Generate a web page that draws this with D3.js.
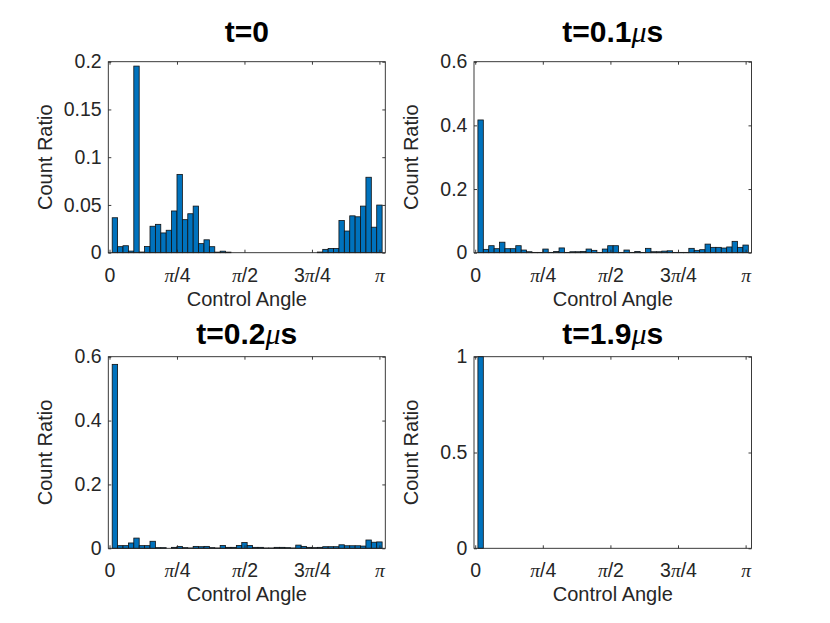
<!DOCTYPE html>
<html><head><meta charset="utf-8">
<script src="https://cdn.jsdelivr.net/npm/d3@7/dist/d3.min.js"></script>
<style>body{margin:0;background:#fff}svg{display:block}</style>
</head><body>
<svg id="chart" width="830" height="623"></svg>
<script>
// ---------- data ----------
const binCount = 50;
const binWidth = Math.PI / binCount;
const binCenters = d3.range(1, binCount + 1).map(i => i * binWidth); // bar centres (rad)

const angleTicks = [0, Math.PI / 4, Math.PI / 2, 3 * Math.PI / 4, Math.PI];
const angleTickLabels = [
  [{t: "0"}],
  [{t: "π", it: true}, {t: "/4"}],
  [{t: "π", it: true}, {t: "/2"}],
  [{t: "3"}, {t: "π", it: true}, {t: "/4"}],
  [{t: "π", it: true}]
];

const ratioT0 = [
  0.0366, 0.0063, 0.0073, 0.0017, 0.1954, 0.0007, 0.0064, 0.0277, 0.0297, 0.0207,
  0.0235, 0.0437, 0.0820, 0.0346, 0.0408, 0.0488, 0.0095, 0.0135, 0.0063, 0.0006,
  0.0016, 0.0006, 0, 0, 0, 0, 0, 0, 0, 0,
  0, 0, 0, 0, 0, 0, 0, 0, 0.0007, 0.0035,
  0.0045, 0.0045, 0.0337, 0.0227, 0.0386, 0.0376, 0.0488, 0.0790, 0.0267, 0.0499
];
const ratioT01 = [
  0.417, 0.0105, 0.0220, 0.0126, 0.0330, 0.0126, 0.0126, 0.0220, 0.0084, 0.0030,
  0.0010, 0.0010, 0.0115, 0.0010, 0.0040, 0.0150, 0.0010, 0.0030, 0.0030, 0.0040,
  0.0115, 0.0074, 0.0010, 0.0115, 0.0220, 0.0220, 0.0010, 0.0084, 0.0010, 0.0040,
  0.0010, 0.0137, 0.0030, 0.0030, 0.0050, 0.0060, 0.0010, 0.0010, 0.0010, 0.0137,
  0.0074, 0.0095, 0.0270, 0.0168, 0.0168, 0.0147, 0.0180, 0.0357, 0.0168, 0.0240
];
const ratioT02 = [
  0.576, 0.0083, 0.0083, 0.0167, 0.0320, 0.0083, 0.0083, 0.0220, 0.0020, 0.0020,
  0, 0.0030, 0.0060, 0.0020, 0.0010, 0.0060, 0.0050, 0.0060, 0.0020, 0.0010,
  0.0090, 0.0030, 0.0030, 0.0090, 0.0180, 0.0090, 0.0030, 0.0030, 0.0010, 0.0010,
  0.0030, 0.0030, 0.0020, 0.0010, 0.0100, 0.0060, 0.0030, 0.0020, 0.0030, 0.0050,
  0.0050, 0.0050, 0.0110, 0.0080, 0.0080, 0.0080, 0.0070, 0.0260, 0.0190, 0.0200
];
const ratioT19 = [
  1.0, 0, 0, 0, 0, 0, 0, 0, 0, 0,
  0, 0, 0, 0, 0, 0, 0, 0, 0, 0,
  0, 0, 0, 0, 0, 0, 0, 0, 0, 0,
  0, 0, 0, 0, 0, 0, 0, 0, 0, 0,
  0, 0, 0, 0, 0, 0, 0, 0, 0, 0
];

const titles = [
  [{t: "t=0", b: true}],
  [{t: "t=0.1", b: true}, {t: "μ", it: true}, {t: "s", b: true}],
  [{t: "t=0.2", b: true}, {t: "μ", it: true}, {t: "s", b: true}],
  [{t: "t=1.9", b: true}, {t: "μ", it: true}, {t: "s", b: true}]
];
const yMax = [0.2, 0.6, 0.6, 1];
const yTicks = [[0, 0.05, 0.1, 0.15, 0.2], [0, 0.2, 0.4, 0.6], [0, 0.2, 0.4, 0.6], [0, 0.5, 1]];
const yTickLabels = [["0", "0.05", "0.1", "0.15", "0.2"], ["0", "0.2", "0.4", "0.6"], ["0", "0.2", "0.4", "0.6"], ["0", "0.5", "1"]];
const seriesList = [ratioT0, ratioT01, ratioT02, ratioT19];
const xLabel = "Control Angle";
const yLabel = "Count Ratio";
const xDomain = [-0.014, 3.21];

// ---------- layout ----------
const colX = [[108.3, 385.3], [474, 751.5]];
const rowY = [[61.7, 252.7], [356.7, 548.3]];
const titleGap = [19.7, 12.7];
const axisColor = "#262626";
const sans = "'Liberation Sans', Arial, Helvetica, sans-serif";
const serif = "'Liberation Serif', 'Times New Roman', serif";
const tickFont = 19.5;
const labelFont = 20;
const titleFont = 30;

const svg = d3.select("#chart");
svg.append("rect").attr("width", 830).attr("height", 623).attr("fill", "#fff");

function addParts(textSel, parts, baseFamily) {
  parts.forEach(p => {
    const ts = textSel.append("tspan").text(p.t);
    if (p.it) ts.attr("font-family", serif).attr("font-style", "italic").attr("font-weight", "normal");
    else ts.attr("font-family", baseFamily);
    if (p.b) ts.attr("font-weight", "bold");
  });
}

seriesList.forEach((values, i) => {
  const col = i % 2, row = Math.floor(i / 2);
  const [x0, x1] = colX[col];
  const [y0, y1] = rowY[row];
  const x = d3.scaleLinear().domain(xDomain).range([x0, x1]);
  const y = d3.scaleLinear().domain([0, yMax[i]]).range([y1, y0]);
  const g = svg.append("g");

  // bars
  const data = values.map((v, k) => ({c: binCenters[k], v}));
  g.append("g").selectAll("rect").data(data).join("rect")
    .attr("x", d => x(d.c - binWidth / 2))
    .attr("width", d => x(d.c + binWidth / 2) - x(d.c - binWidth / 2))
    .attr("y", d => y(d.v))
    .attr("height", d => y(0) - y(d.v))
    .attr("fill", "#0072BD")
    .attr("stroke", "#111")
    .attr("stroke-width", 0.8);

  // axes (ticks inward, box)
  const tickLen = 3;
  const bottom = g.append("g").attr("transform", `translate(0,${y1})`)
    .call(d3.axisBottom(x).tickValues(angleTicks).tickSize(-tickLen).tickPadding(15).tickFormat(() => ""));
  const top = g.append("g").attr("transform", `translate(0,${y0})`)
    .call(d3.axisTop(x).tickValues(angleTicks).tickSize(-tickLen).tickFormat(() => ""));
  const left = g.append("g").attr("transform", `translate(${x0},0)`)
    .call(d3.axisLeft(y).tickValues(yTicks[i]).tickSize(-tickLen).tickPadding(6.6)
      .tickFormat((d, j) => yTickLabels[i][j]));
  const right = g.append("g").attr("transform", `translate(${x1},0)`)
    .call(d3.axisRight(y).tickValues(yTicks[i]).tickSize(-tickLen).tickFormat(() => ""));
  [bottom, top, left, right].forEach(a => {
    a.select(".domain").remove();
    a.selectAll("line").attr("stroke", axisColor).attr("stroke-width", 0.9);
  });
  left.selectAll("text").attr("font-family", sans).attr("font-size", tickFont).attr("fill", axisColor);
  bottom.selectAll(".tick text").each(function (d, j) {
    const t = d3.select(this).text(null).attr("font-size", tickFont).attr("fill", axisColor).attr("font-family", sans);
    addParts(t, angleTickLabels[j], sans);
  });

  g.append("rect").attr("x", x0).attr("y", y0).attr("width", x1 - x0).attr("height", y1 - y0)
    .attr("fill", "none").attr("stroke", axisColor).attr("stroke-width", 0.9);

  // labels
  g.append("text").attr("x", (x0 + x1) / 2).attr("y", y1 + 53)
    .attr("text-anchor", "middle").attr("font-family", sans).attr("font-size", labelFont)
    .attr("fill", axisColor).text(xLabel);
  g.append("text").attr("transform", `translate(${x0 - 56},${(y0 + y1) / 2}) rotate(-90)`)
    .attr("text-anchor", "middle").attr("font-family", sans).attr("font-size", labelFont)
    .attr("fill", axisColor).text(yLabel);
  const tt = g.append("text").attr("x", (x0 + x1) / 2).attr("y", y0 - titleGap[row])
    .attr("text-anchor", "middle").attr("font-family", sans).attr("font-size", titleFont)
    .attr("font-weight", "bold").attr("fill", "#000");
  addParts(tt, titles[i], sans);
});
</script>
</body></html>
